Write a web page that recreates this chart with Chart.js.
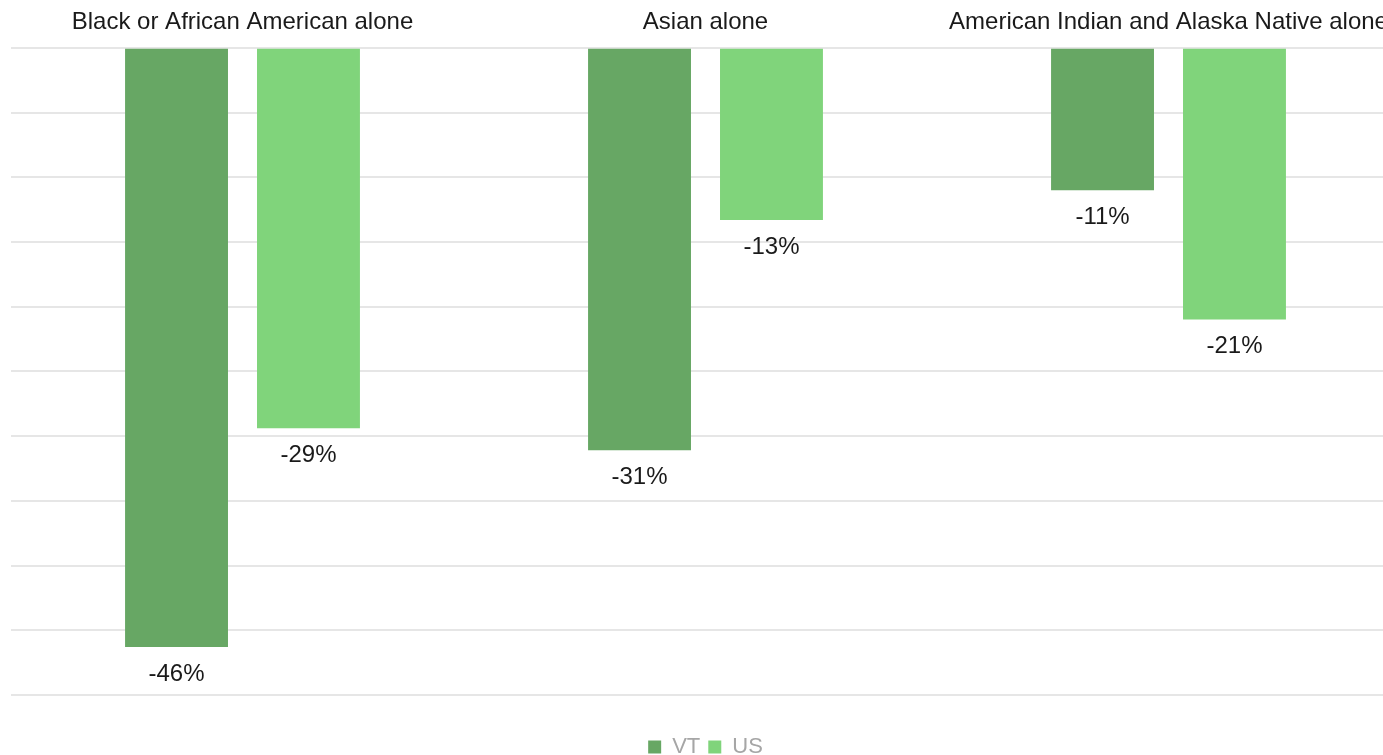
<!DOCTYPE html>
<html>
<head>
<meta charset="utf-8">
<script src="https://cdn.jsdelivr.net/npm/chart.js@4"></script>
<style>
  html, body { margin: 0; padding: 0; background: #fff; overflow: hidden; }
  #wrap { width: 1420px; height: 768px; position: relative; }
</style>
</head>
<body>
<div id="wrap"><canvas id="myChart"></canvas></div>
<script>
const categories = ['Black or African American alone', 'Asian alone', 'American Indian and Alaska Native alone'];
const vtValues = [-46.3, -31.1, -11.0];
const usValues = [-29.4, -13.3, -21.0];
const seriesNames = ['VT', 'US'];

// draws the "-46%" style labels under each bar
const barLabels = {
  id: 'barLabels',
  afterDatasetsDraw(chart) {
    const ctx = chart.ctx;
    ctx.save();
    ctx.font = '24px "Liberation Sans", Arial, sans-serif';
    ctx.fillStyle = '#1a1a1a';
    ctx.textAlign = 'center';
    ctx.textBaseline = 'middle';
    chart.data.datasets.forEach((ds, i) => {
      chart.getDatasetMeta(i).data.forEach((bar, j) => {
        ctx.fillText(Math.round(ds.data[j]) + '%', bar.x, bar.y + 27);
      });
    });
    ctx.restore();
  }
};

const ctx = document.getElementById('myChart');
new Chart(ctx, {
  type: 'bar',
  data: {
    labels: categories,
    datasets: [
      { label: seriesNames[0], data: vtValues, backgroundColor: '#67a764',
        categoryPercentage: 0.57, barPercentage: 0.78 },
      { label: seriesNames[1], data: usValues, backgroundColor: '#80d47b',
        categoryPercentage: 0.57, barPercentage: 0.78 }
    ]
  },
  options: {
    responsive: true,
    maintainAspectRatio: false,
    animation: false,
    layout: { padding: { left: 11, right: 20, top: 5, bottom: 0 } },
    plugins: {
      tooltip: { enabled: false },
      legend: {
        position: 'bottom',
        // empty title only used as spacing above the legend items
        title: { display: true, text: '', font: { size: 1, lineHeight: 1 }, padding: { top: 32, bottom: 0 } },
        labels: {
          boxWidth: 13,
          boxHeight: 13,
          padding: 8,
          color: '#a6a6a6',
          font: { size: 22, family: '"Liberation Sans", Arial, sans-serif' }
        }
      }
    },
    scales: {
      x: {
        position: 'top',
        grid: { display: false },
        border: { display: false },
        ticks: {
          color: '#1a1a1a',
          padding: 3,
          maxRotation: 0,
          autoSkip: false,
          font: { size: 24, family: '"Liberation Sans", Arial, sans-serif' }
        }
      },
      y: {
        min: -50,
        max: 0,
        ticks: { display: false, stepSize: 5 },
        border: { display: false },
        grid: { color: '#e6e6e6', lineWidth: 2, drawTicks: false }
      }
    }
  },
  plugins: [barLabels]
});
</script>
</body>
</html>
